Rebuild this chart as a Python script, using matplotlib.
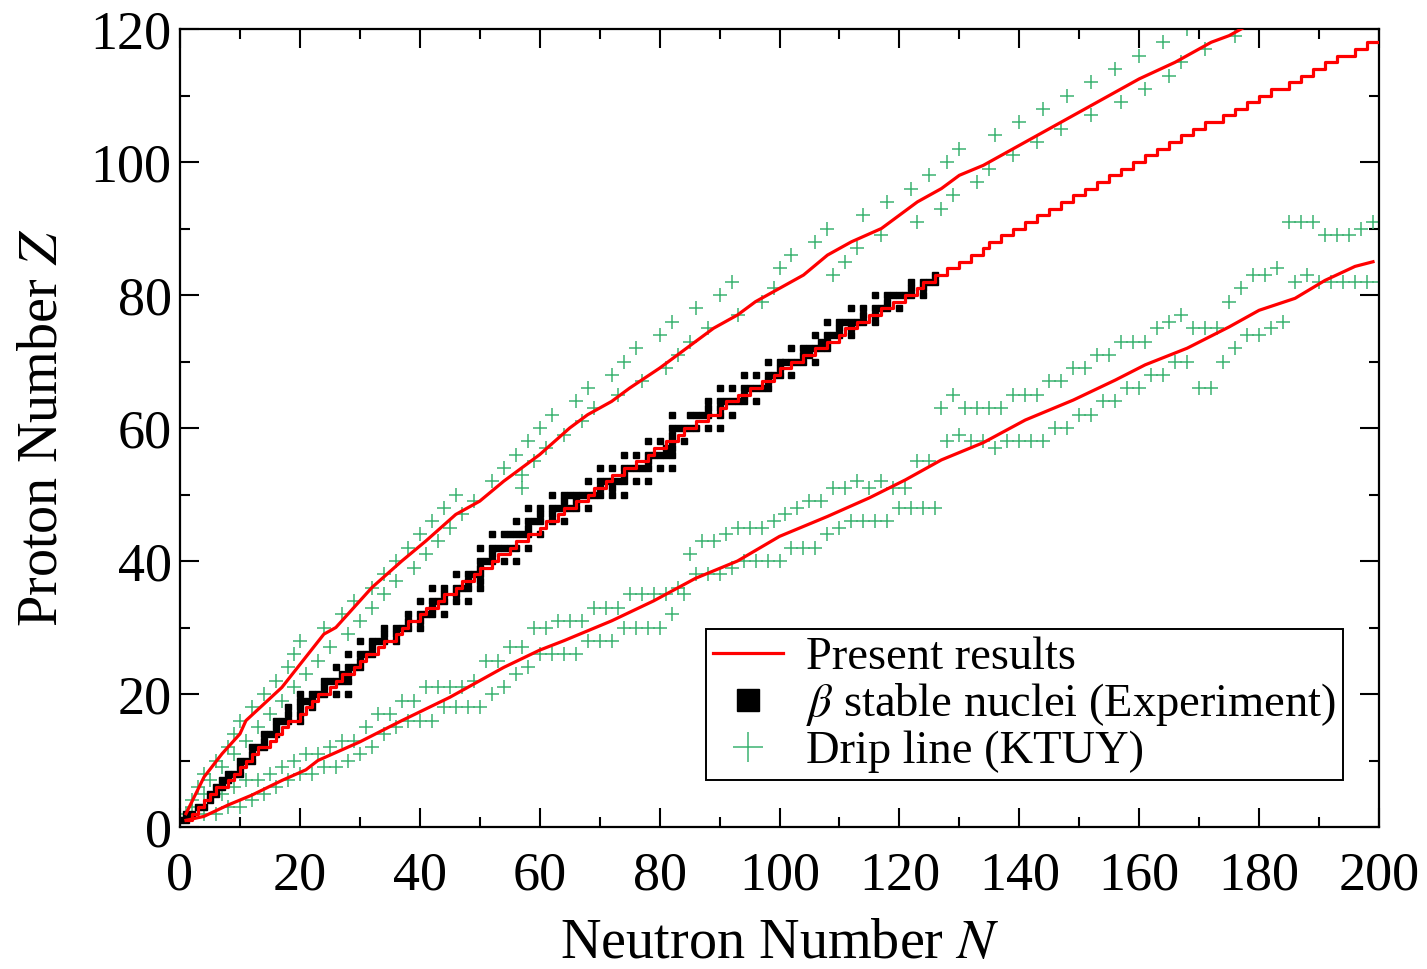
import numpy as np
import matplotlib
matplotlib.use('Agg')
import matplotlib.pyplot as plt
from matplotlib.lines import Line2D
from matplotlib.ticker import MultipleLocator

plt.rcParams['font.family'] = ['Liberation Serif', 'DejaVu Serif']
plt.rcParams['mathtext.fontset'] = 'stix'

# ---------------- data ----------------
# Present results: beta-stability line, N at which the line steps up to Z (Z = 1..118)
stab_Z = list(range(1, 119))
stab_N = [1, 2, 3, 4, 5, 6, 8, 9, 10, 11, 12, 13, 15, 16, 17, 18, 20, 21, 22, 23,
          25, 26, 27, 29, 30, 31, 33, 34, 36, 37, 38, 40, 41, 43, 44, 46, 47, 49, 50, 52,
          53, 55, 56, 58, 60, 61, 63, 64, 66, 68, 69, 71, 72, 74, 76, 78, 79, 81, 83, 84,
          86, 88, 90, 91, 93, 95, 97, 99, 100, 102, 104, 106, 108, 110, 111, 113, 115, 117, 119, 121,
          123, 124, 126, 128, 130, 132, 134, 135, 137, 139, 141, 143, 145, 147, 149, 151, 153, 155, 157, 159,
          161, 163, 165, 167, 169, 171, 174, 176, 178, 180, 182, 185, 187, 189, 191, 193, 196, 198]

# Present results: proton drip line
pdrip_N = [1, 4, 7, 10, 11, 17, 24, 26, 32, 37, 41, 46, 50, 54, 57, 60, 65, 68, 72, 75,
           80, 83, 89, 93, 96, 100, 104, 108, 112, 117, 120, 123, 127, 130, 134, 137, 141, 147, 151, 157,
           160, 166, 172, 175, 178]
pdrip_Z = [2, 7.5, 11, 14, 16, 21, 29, 30, 36, 40, 43, 47, 49, 52, 54, 56, 60, 62, 64, 66,
           69, 71, 75, 77, 79, 81, 83, 86, 88, 90, 92, 94, 96, 98, 99.5, 101, 103, 106, 108, 111,
           112.5, 115, 118, 119, 120.5]

# Present results: neutron drip line
ndrip_N = [1, 4, 8, 12, 17, 21, 23, 30, 37, 45, 54, 60, 64, 72, 79, 86, 93, 100, 108, 115,
           121, 127, 134, 141, 149, 156, 161, 168, 175, 180, 186, 191, 196, 199]
ndrip_Z = [1, 1.6, 3.3, 4.8, 7, 8.6, 10, 12.8, 16, 19.5, 24, 26.6, 28, 31, 34, 37.4, 40, 43.7, 46.7, 49.5,
           52.2, 55.2, 57.8, 61.2, 64.2, 67.2, 69.5, 72, 75.2, 77.7, 79.5, 82.2, 84.3, 85]

# Experiment: beta-stable nuclei
stable_Z = [1, 1, 2, 2, 3, 3, 4, 5, 5, 6, 6, 7, 7, 8, 8, 8, 9, 10, 10, 10, 11, 12, 12, 12, 13,
            14, 14, 14, 15, 16, 16, 16, 16, 17, 17, 18, 18, 18, 19, 19, 19,
            20, 20, 20, 20, 20, 20, 21, 22, 22, 22, 22, 22, 23, 23, 24, 24, 24, 24, 25,
            26, 26, 26, 26, 27, 28, 28, 28, 28, 28, 29, 29, 30, 30, 30, 30, 30, 31, 31,
            32, 32, 32, 32, 32, 33, 34, 34, 34, 34, 34, 34, 35, 35, 36, 36, 36, 36, 36, 36,
            37, 37, 38, 38, 38, 38, 39, 40, 40, 40, 40, 40, 41, 42, 42, 42, 42, 42, 42, 42,
            44, 44, 44, 44, 44, 44, 44, 45, 46, 46, 46, 46, 46, 46, 47, 47,
            48, 48, 48, 48, 48, 48, 48, 48, 49, 49, 50, 50, 50, 50, 50, 50, 50, 50, 50, 50,
            51, 51, 52, 52, 52, 52, 52, 52, 52, 52, 53, 54, 54, 54, 54, 54, 54, 54, 54, 54,
            55, 56, 56, 56, 56, 56, 56, 56, 57, 57, 58, 58, 58, 58, 59,
            60, 60, 60, 60, 60, 60, 60, 62, 62, 62, 62, 62, 62, 62, 63, 63,
            64, 64, 64, 64, 64, 64, 64, 65, 66, 66, 66, 66, 66, 66, 66, 67,
            68, 68, 68, 68, 68, 68, 69, 70, 70, 70, 70, 70, 70, 70, 71, 71,
            72, 72, 72, 72, 72, 72, 73, 73, 74, 74, 74, 74, 74, 75, 75,
            76, 76, 76, 76, 76, 76, 76, 77, 77, 78, 78, 78, 78, 78, 78, 79,
            80, 80, 80, 80, 80, 80, 80, 81, 81, 82, 82, 82, 82, 83]
stable_N = [0, 1, 1, 2, 3, 4, 5, 5, 6, 6, 7, 7, 8, 8, 9, 10, 10, 10, 11, 12, 12, 12, 13, 14, 14,
            14, 15, 16, 16, 16, 17, 18, 20, 18, 20, 18, 20, 22, 20, 21, 22,
            20, 22, 23, 24, 26, 28, 24, 24, 25, 26, 27, 28, 27, 28, 26, 28, 29, 30, 30,
            28, 30, 31, 32, 32, 30, 32, 33, 34, 36, 34, 36, 34, 36, 37, 38, 40, 38, 40,
            38, 40, 41, 42, 44, 42, 40, 42, 43, 44, 46, 48, 44, 46, 42, 44, 46, 47, 48, 50,
            48, 50, 46, 48, 49, 50, 50, 50, 51, 52, 54, 56, 52, 50, 52, 53, 54, 55, 56, 58,
            52, 54, 55, 56, 57, 58, 60, 58, 56, 58, 59, 60, 62, 64, 60, 62,
            58, 60, 62, 63, 64, 65, 66, 68, 64, 66, 62, 64, 65, 66, 67, 68, 69, 70, 72, 74,
            70, 72, 68, 70, 71, 72, 73, 74, 76, 78, 74, 70, 72, 74, 75, 76, 77, 78, 80, 82,
            78, 74, 76, 78, 79, 80, 81, 82, 81, 82, 78, 80, 82, 84, 82,
            82, 83, 84, 85, 86, 88, 90, 82, 85, 86, 87, 88, 90, 92, 88, 90,
            88, 90, 91, 92, 93, 94, 96, 94, 90, 92, 94, 95, 96, 97, 98, 98,
            94, 96, 98, 99, 100, 102, 100, 98, 100, 101, 102, 103, 104, 106, 104, 105,
            102, 104, 105, 106, 107, 108, 107, 108, 106, 108, 109, 110, 112, 110, 112,
            108, 110, 111, 112, 113, 114, 116, 114, 116, 112, 114, 116, 117, 118, 120, 118,
            116, 118, 119, 120, 121, 122, 124, 122, 124, 122, 124, 125, 126, 126]

# KTUY drip lines: proton-rich side (one point per Z)
ktuy_p_Z = [2, 4, 6, 8, 10, 12, 14, 16, 18, 20, 22, 24, 26, 28, 30, 32, 34, 36, 38, 40,
            42, 44, 46, 48, 50, 52, 54, 56, 58, 60, 62, 64, 66, 68, 70, 72, 74, 76, 78, 80,
            82, 84, 86, 88, 90, 92, 94, 96, 98, 100, 102, 104, 106, 108, 110, 112, 114, 116, 118, 120,
            3, 5, 7, 9, 11, 13, 15, 17, 19, 21, 23, 25, 27, 29, 31, 33, 35, 37, 39, 41,
            43, 45, 47, 49, 51, 53, 55, 57, 59, 61, 63, 65, 67, 69, 71, 73, 75, 77, 79, 81,
            83, 85, 87, 89, 91, 93, 95, 97, 99, 101, 103, 105, 107, 109, 111, 113, 115, 117, 119]
ktuy_p_N = [1, 2, 3, 4, 6, 8, 9, 10, 12, 14, 16, 18, 19, 20, 24, 27, 29, 32, 34, 36,
            38, 40, 42, 44, 46, 52, 54, 56, 58, 60, 62, 66, 68, 72, 74, 76, 80, 82, 86, 90,
            92, 100, 102, 106, 108, 114, 118, 122, 125, 128, 130, 136, 140, 144, 148, 152, 156, 160, 164, 168,
            2, 4, 5, 7, 9, 11, 13, 15, 17, 19, 21, 23, 25, 28, 30, 32, 34, 36, 39, 41,
            43, 45, 47, 49, 57, 57, 59, 61, 64, 67, 69, 73, 77, 81, 83, 85, 88, 93, 97, 99,
            109, 111, 113, 117, 123, 127, 129, 133, 135, 139, 143, 147, 152, 157, 161, 165, 167, 171, 176]

# KTUY drip lines: neutron-rich side (one point per N)
ktuy_n_N = [4, 6, 8, 10, 12, 14, 16, 18, 20, 22, 24, 26, 28, 30, 32, 34, 36, 38, 40, 42,
            44, 46, 48, 50, 52, 54, 56, 58, 60, 62, 64, 66, 68, 70, 72, 74, 76, 78, 80, 82,
            84, 86, 88, 90, 92, 94, 96, 98, 100, 102, 104, 106, 108, 110, 112, 114, 116, 118, 120, 122,
            124, 126, 128, 130, 132, 134, 136, 138, 140, 142, 144, 146, 148, 150, 152, 154, 156, 158, 160, 162,
            164, 166, 168, 170, 172, 174, 176, 178, 180, 182, 184, 186, 188, 190, 192, 194, 196, 198, 200,
            7, 9, 11, 13, 15, 17, 19, 21, 23, 25, 27, 29, 31, 33, 35, 37, 39, 41, 43, 45,
            47, 49, 51, 53, 55, 57, 59, 61, 63, 65, 67, 69, 71, 73, 75, 77, 79, 81, 83, 85,
            87, 89, 91, 93, 95, 97, 99, 101, 103, 105, 107, 109, 111, 113, 115, 117, 119, 121, 123, 125,
            127, 129, 131, 133, 135, 137, 139, 141, 143, 145, 147, 149, 151, 153, 155, 157, 159, 161, 163, 165,
            167, 169, 171, 173, 175, 177, 179, 181, 183, 185, 187, 189, 191, 193, 195, 197, 199]
ktuy_n_Z = [2, 2, 3, 3, 4, 5, 6, 7, 8, 8, 9, 9, 10, 11, 12, 14, 15, 16, 16, 16,
            18, 18, 18, 18, 20, 21, 23, 24, 26, 26, 26, 26, 28, 28, 28, 30, 30, 30, 30, 32,
            35, 38, 38, 38, 39, 40, 40, 40, 40, 42, 42, 42, 44, 45, 46, 46, 46, 46, 48, 48,
            48, 48, 58, 59, 58, 58, 57, 58, 58, 58, 58, 60, 60, 62, 62, 64, 64, 66, 66, 68,
            68, 70, 70, 66, 66, 70, 72, 74, 74, 75, 76, 82, 83, 82, 82, 82, 82, 82, 82,
            5, 6, 7, 7, 8, 9, 10, 11, 11, 12, 13, 13, 15, 17, 17, 19, 19, 21, 21, 21,
            21, 22, 25, 25, 27, 27, 30, 30, 31, 31, 31, 33, 33, 33, 35, 35, 35, 35, 36, 41,
            43, 43, 44, 45, 45, 45, 46, 47, 48, 49, 49, 51, 51, 52, 51, 52, 51, 51, 55, 55,
            63, 65, 63, 63, 63, 63, 65, 65, 65, 67, 67, 69, 69, 71, 71, 73, 73, 73, 75, 76,
            77, 75, 75, 75, 79, 81, 83, 83, 84, 91, 91, 91, 89, 89, 89, 90, 91]

# ---------------- figure ----------------
fig = plt.figure(figsize=(14.27, 9.69), dpi=100)
ax = fig.add_axes([180 / 1427, 1 - 827 / 969, 1199 / 1427, 798 / 969])

green = '#3cb371'
ax.plot(ktuy_p_N, ktuy_p_Z, linestyle='none', marker='+', ms=10, mew=1.1, color=green, zorder=2)
ax.plot(ktuy_n_N, ktuy_n_Z, linestyle='none', marker='+', ms=10, mew=1.1, color=green, zorder=2)
ax.plot(stable_N, stable_Z, linestyle='none', marker='s', ms=4.6, color='black', zorder=3)

stab_N_line = stab_N + [200]
stab_Z_line = stab_Z + [stab_Z[-1]]
ax.plot(stab_N_line, stab_Z_line, drawstyle='steps-post', color='red', lw=2.3, zorder=4)
ax.plot(pdrip_N, pdrip_Z, color='red', lw=2.3, zorder=4)
ax.plot(ndrip_N, ndrip_Z, color='red', lw=2.3, zorder=4)

ax.set_xlim(0, 200)
ax.set_ylim(0, 120)
ax.xaxis.set_major_locator(MultipleLocator(20))
ax.xaxis.set_minor_locator(MultipleLocator(10))
ax.yaxis.set_major_locator(MultipleLocator(20))
ax.yaxis.set_minor_locator(MultipleLocator(10))
ax.tick_params(which='both', direction='in', top=True, right=True, width=1.5, colors='black')
ax.tick_params(which='major', length=13.5, labelsize=39)
ax.tick_params(axis='x', which='major', pad=17)
ax.tick_params(axis='y', which='major', pad=6)
ax.tick_params(which='minor', length=7)
for s in ax.spines.values():
    s.set_linewidth(1.6)

ax.set_xlabel('Neutron Number $N$', fontsize=40.5, labelpad=12)
ax.set_ylabel('Proton Number $Z$', fontsize=40.5, labelpad=16)

handles = [
    Line2D([], [], color='red', lw=2.3),
    Line2D([], [], linestyle='none', marker='s', ms=16, color='black'),
    Line2D([], [], linestyle='none', marker='+', ms=22, mew=1.1, color=green),
]
labels = ['Present results', r'$\beta$ stable nuclei (Experiment)', 'Drip line (KTUY)']
leg = ax.legend(handles, labels, loc='lower left', bbox_to_anchor=(0.4387, 0.0589),
                fontsize=33.5, frameon=True, fancybox=False, edgecolor='black',
                framealpha=1, borderpad=0.15, labelspacing=0.05, handlelength=1.5,
                handletextpad=0.5, borderaxespad=0)
leg.get_frame().set_linewidth(1.4)

fig.savefig('out.png', dpi=100)
